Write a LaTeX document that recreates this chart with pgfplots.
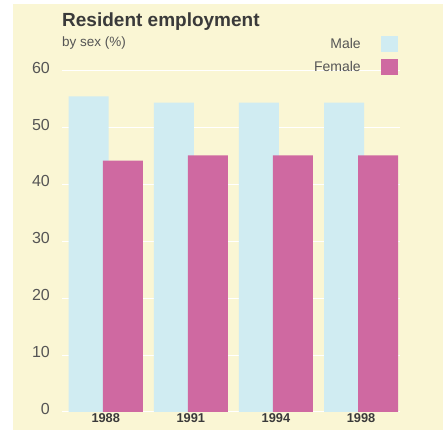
\documentclass[border=0pt]{standalone}
\usepackage{pgfplots}
\pgfplotsset{compat=1.18}
\usepackage{fontspec}
\setmainfont{Liberation Sans}
\definecolor{bg}{HTML}{FAF6D4}
\definecolor{male}{HTML}{D0ECF2}
\definecolor{female}{HTML}{CF69A1}
\definecolor{txt}{HTML}{3A3A3A}
\definecolor{tick}{HTML}{555555}
\begin{document}
\begin{tikzpicture}[x=1pt,y=1pt]
\fill[white] (0,0) rectangle (443,430);
\fill[bg] (13,0) rectangle (443,426);
\begin{axis}[
  at={(62pt,18pt)}, anchor=south west,
  scale only axis, width=338pt, height=341.3pt,
  xmin=-0.514, xmax=3.458, ymin=0, ymax=60,
  axis line style={draw=none},
  major tick length=0pt,
  ytick={0,10,...,60},
  xtick={0,1,2,3},
  xticklabels={1988,1991,1994,1998},
  ymajorgrids,
  grid style={white, line width=1pt},
  /pgf/number format/assume math mode=true,
  yticklabel style={font=\fontsize{16}{18}\selectfont, text=tick, anchor=east, inner sep=0pt, xshift=-12pt, yshift=3pt},
  xticklabel style={font=\bfseries\fontsize{12.8}{14}\selectfont, text=txt, anchor=north, inner sep=0pt, yshift=-1.5pt},
  legend style={at={(0.994,1.101)}, anchor=north east, draw=none, fill=none, inner sep=0pt,
    font=\fontsize{14}{16}\selectfont, text=tick, row sep=7pt,
    nodes={inner sep=0pt}},
  legend plot pos=right,
  legend cell align=right,
  legend image code/.code={\path (0pt,0pt); \fill[#1] (20pt,-8pt) rectangle (37pt,8pt);},
]
\addplot[ybar, bar width=0.47, bar shift=0pt, fill=male, draw=none]
  coordinates {(-0.2,55.5) (0.8,54.4) (1.8,54.4) (2.8,54.4)};
\addlegendentry{Male}
\addplot[ybar, bar width=0.47, bar shift=0pt, fill=female, draw=none]
  coordinates {(0.2,44.2) (1.2,45.1) (2.2,45.1) (3.2,45.1)};
\addlegendentry{Female}
\end{axis}
\node[anchor=base west, inner sep=0pt, font=\bfseries\fontsize{19}{22}\selectfont, text=txt] at (62,403.5) {Resident employment};
\node[anchor=base west, inner sep=0pt, font=\fontsize{13.5}{16}\selectfont, text=tick] at (62,383) {by sex (\%)};
\end{tikzpicture}
\end{document}
